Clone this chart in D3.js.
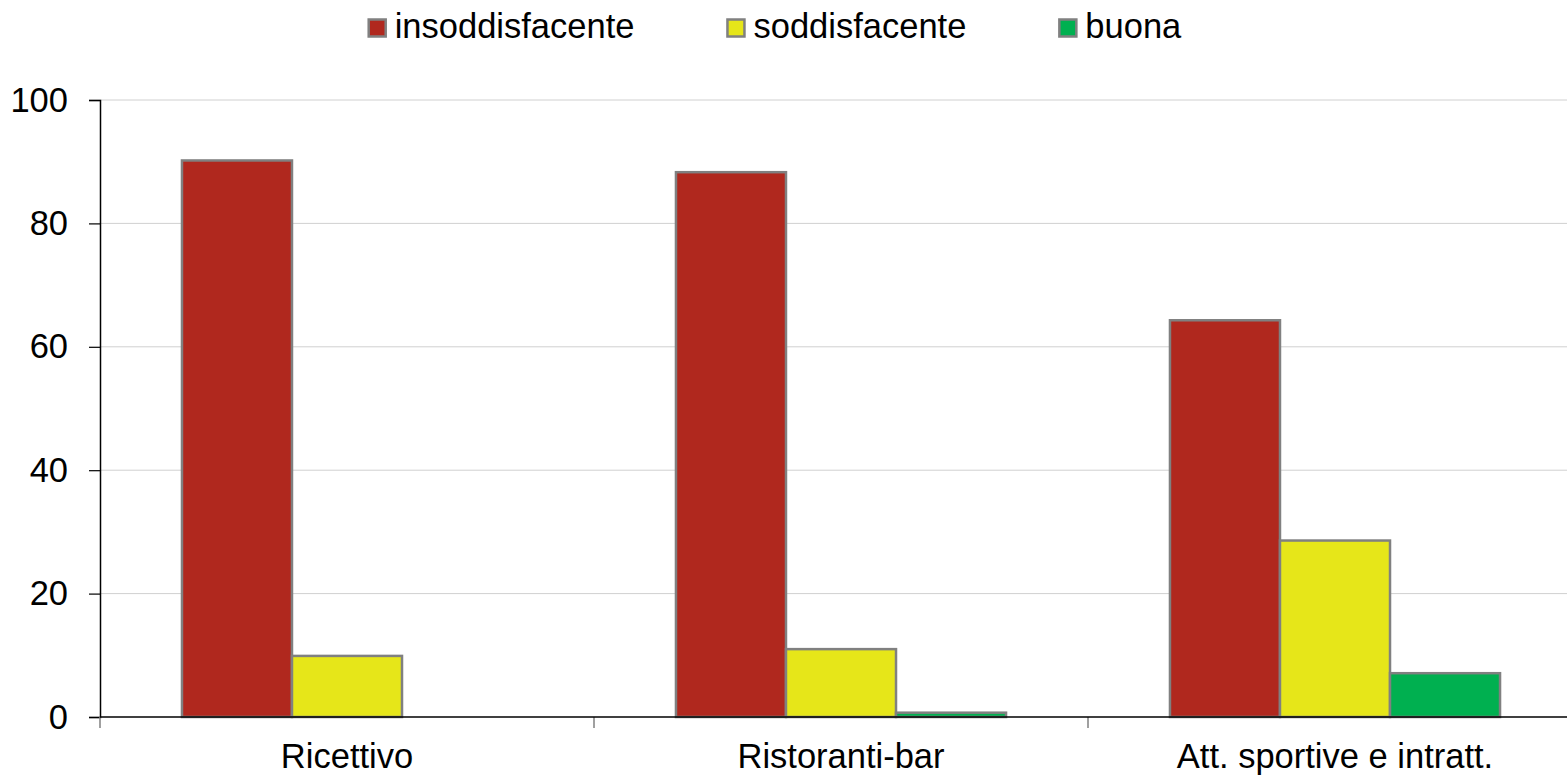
<!DOCTYPE html>
<html>
<head>
<meta charset="utf-8">
<script src="https://cdn.jsdelivr.net/npm/d3@7"></script>
<style>
  html, body { margin: 0; padding: 0; background: #ffffff; }
  svg { display: block; font-family: "Liberation Sans", Arial, sans-serif; }
</style>
</head>
<body>
<svg id="chart" width="1567" height="775"></svg>
<script>
// ---- data ----
const categories = ["Ricettivo", "Ristoranti-bar", "Att. sportive e intratt."];
const seriesNames = ["insoddisfacente", "soddisfacente", "buona"];
const insoddisfacente = [90.2, 88.3, 64.3];
const soddisfacente = [9.9, 11.0, 28.6];
const buona = [0, 0.7, 7.1];
const yTicks = [0, 20, 40, 60, 80, 100];
const seriesColors = ["#B0281E", "#E6E619", "#00B050"];

const seriesValues = [insoddisfacente, soddisfacente, buona];
const rows = categories.map((c, i) => ({
  category: c,
  values: seriesNames.map((s, k) => ({ series: s, value: seriesValues[k][i] }))
}));

// ---- layout ----
const svg = d3.select("#chart");
const mLeft = 100, mRight = 1582, mTop = 100, mBottom = 717;
const FS = 34.5;

const x0 = d3.scaleBand().domain(categories).range([mLeft, mRight]).paddingInner(0).paddingOuter(0);
const bw = x0.bandwidth();
const x1 = d3.scaleBand().domain(seriesNames).range([0, bw]).paddingInner(0).paddingOuter(0.745);
const y = d3.scaleLinear().domain([0, 100]).range([mBottom, mTop]);
const color = d3.scaleOrdinal().domain(seriesNames).range(seriesColors);

// gridlines
svg.append("g")
  .selectAll("line")
  .data(yTicks.filter(t => t > 0))
  .join("line")
  .attr("x1", mLeft).attr("x2", 1567)
  .attr("y1", d => y(d)).attr("y2", d => y(d))
  .attr("stroke", "#d0d0d0").attr("stroke-width", 1);

// bars
const groups = svg.append("g")
  .selectAll("g")
  .data(rows)
  .join("g")
  .attr("transform", d => `translate(${x0(d.category)},0)`);

groups.selectAll("rect")
  .data(d => d.values)
  .join("rect")
  .attr("x", d => x1(d.series))
  .attr("y", d => y(d.value))
  .attr("width", x1.bandwidth())
  .attr("height", d => y(0) - y(d.value))
  .attr("fill", d => color(d.series))
  .attr("stroke", "#808080")
  .attr("stroke-width", d => d.value > 0 ? 2.5 : 0);

// y axis
const yAxis = svg.append("g")
  .attr("transform", `translate(${mLeft},0)`)
  .call(d3.axisLeft(y).tickValues(yTicks).tickSize(11).tickPadding(21).tickFormat(d3.format("d")));
yAxis.attr("font-size", null).attr("font-family", null);
yAxis.select(".domain").attr("stroke", "#000").attr("stroke-width", 1.5);
yAxis.selectAll(".tick line").attr("stroke", "#000").attr("stroke-width", 1.2);
yAxis.selectAll(".tick text")
  .style("font-size", FS + "px").attr("fill", "#000");

// x axis
const xAxis = svg.append("g")
  .attr("transform", `translate(0,${mBottom})`)
  .call(d3.axisBottom(x0).tickSize(0).tickPadding(27));
xAxis.attr("font-size", null).attr("font-family", null);
xAxis.select(".domain").remove();
xAxis.selectAll(".tick text")
  .style("font-size", FS + "px").attr("fill", "#000");

// category boundary ticks
svg.append("g")
  .selectAll("line")
  .data(categories)
  .join("line")
  .attr("x1", d => x0(d)).attr("x2", d => x0(d))
  .attr("y1", mBottom).attr("y2", mBottom + 11)
  .attr("stroke", "#808080").attr("stroke-width", 1.5);

// x axis baseline
svg.append("line")
  .attr("x1", mLeft).attr("x2", 1567)
  .attr("y1", y(0)).attr("y2", y(0))
  .attr("stroke", "#000").attr("stroke-width", 1.5);

// legend
const legend = svg.append("g");
const items = legend.selectAll("g")
  .data(seriesNames)
  .join("g");
items.append("rect")
  .attr("x", 0).attr("y", 19.5)
  .attr("width", 17).attr("height", 17)
  .attr("fill", d => color(d))
  .attr("stroke", "#808080").attr("stroke-width", 2.5);
items.append("text")
  .attr("x", 26).attr("y", 38)
  .style("font-size", FS + "px").attr("fill", "#000")
  .text(d => d);

const gap = 93;
const widths = [];
items.each(function() { widths.push(26 + d3.select(this).select("text").node().getComputedTextLength()); });
const total = d3.sum(widths) + gap * (widths.length - 1);
let cx = 775 - total / 2;
items.each(function(d, i) {
  d3.select(this).attr("transform", `translate(${cx},0)`);
  cx += widths[i] + gap;
});
</script>
</body>
</html>
